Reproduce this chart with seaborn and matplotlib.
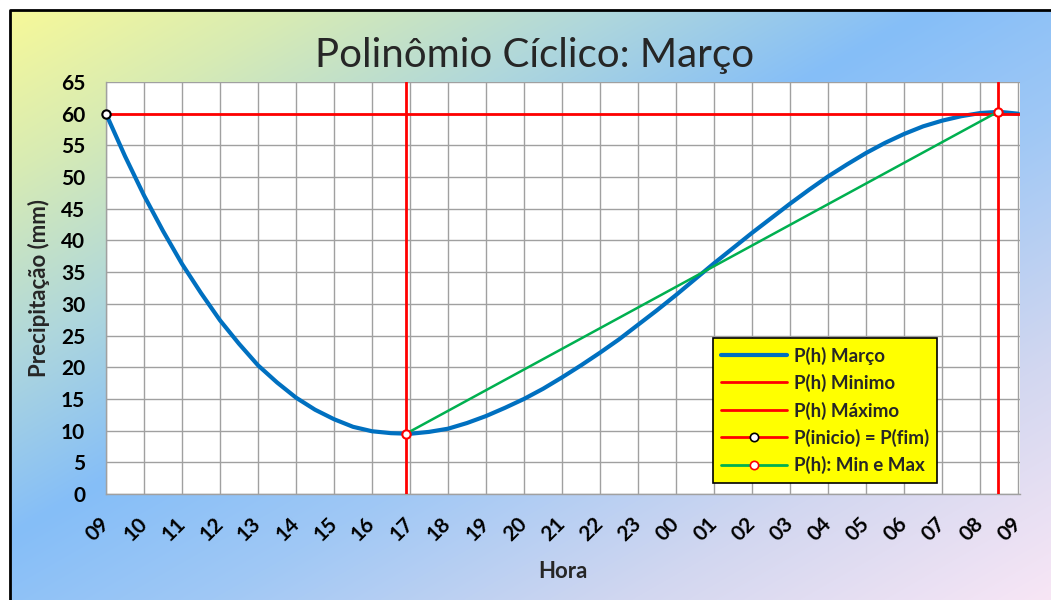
import numpy as np
import matplotlib
matplotlib.use("Agg")
import matplotlib.pyplot as plt
import seaborn as sns
from matplotlib.patches import Rectangle
from matplotlib.lines import Line2D

# hour labels along the x axis (one day, 09h -> 09h)
hour_labels = ['09', '10', '11', '12', '13', '14', '15', '16', '17', '18', '19', '20',
               '21', '22', '23', '00', '01', '02', '03', '04', '05', '06', '07', '08', '09']

# P(h) Marco, every half hour from 09h
hora = np.arange(49) * 0.5
precip = [60.0, 53.3, 47.1, 41.5, 36.3, 31.7, 27.4, 23.7, 20.3, 17.6,
          15.2, 13.3, 11.8, 10.6, 9.9, 9.6, 9.5, 9.8, 10.3, 11.2,
          12.3, 13.6, 15.0, 16.6, 18.4, 20.3, 22.3, 24.4, 26.7, 29.0,
          31.4, 33.9, 36.4, 38.8, 41.2, 43.5, 45.8, 48.0, 50.1, 52.0,
          53.8, 55.4, 56.8, 58.0, 58.9, 59.6, 60.1, 60.3, 60.0]

# reference points
min_h, min_p = 7.89, 9.5
max_h, max_p = 23.47, 60.3
inicio_p = 60.0

sns.set_theme(style="white")
plt.rcParams['font.family'] = ['Lato', 'DejaVu Sans']

fig = plt.figure(figsize=(10.51, 6), dpi=100)

# gradient background
W, H = 1051, 600
yy, xx = np.mgrid[0:H, 0:W]
t = (xx / W + yy / H) / 2
stops = [0.0, 0.15, 0.3, 0.45, 0.6, 0.8, 1.0]
cols = np.array([(250, 250, 150), (215, 235, 180), (175, 215, 220), (133, 190, 248),
                 (160, 200, 245), (210, 215, 240), (248, 230, 245)]) / 255
img = np.dstack([np.interp(t, stops, cols[:, k]) for k in range(3)])
bg = fig.add_axes([0, 0, 1, 1], zorder=-10)
bg.imshow(img, aspect='auto', extent=[0, W, H, 0])
bg.set_xlim(0, W)
bg.set_ylim(H, 0)
bg.axis('off')
bg.add_patch(Rectangle((0, 0), W, 9, color='white'))
bg.add_patch(Rectangle((0, 0), 9, H, color='white'))
bg.plot([10, 10, W], [H, 10, 10], color='black', lw=2)

ax = fig.add_axes([106 / W, 1 - 494 / H, (1020 - 106) / W, (494 - 82) / H])
ax.set_facecolor('white')

sns.lineplot(x=hora, y=precip, ax=ax, color='#0070c0', linewidth=3, zorder=3,
             label='P(h) Março')
ax.plot([min_h, min_h], [0, 65], color='#ff0000', lw=2, zorder=4, label='P(h) Minimo')
ax.plot([max_h, max_h], [0, 65], color='#ff0000', lw=2, zorder=4, label='P(h) Máximo')
ax.plot([0, 24.05], [inicio_p, inicio_p], color='#ff0000', lw=2, zorder=4)
ax.plot([0], [inicio_p], 'o', ms=6, mfc='white', mec='black', mew=1.5, zorder=6,
        clip_on=False)
ax.plot([min_h, max_h], [min_p, max_p], color='#00b050', lw=1.8, zorder=4)
ax.plot([min_h, max_h], [min_p, max_p], 'o', ms=6, mfc='white', mec='#ff0000', mew=1.5,
        zorder=6, clip_on=False)

ax.set_xlim(0, 24.05)
ax.set_ylim(0, 65)
ax.set_xticks(range(25))
ax.set_xticklabels(hour_labels, rotation=45, ha='right', va='center',
                   rotation_mode='anchor', fontweight='bold', fontsize=15)
ax.set_yticks(range(0, 66, 5))
ax.set_yticklabels([str(v) for v in range(0, 66, 5)], fontweight='bold', fontsize=15)
ax.tick_params(axis='x', length=6, width=1, color='#a0a0a0', pad=13, labelcolor='black')
ax.tick_params(axis='y', length=6, width=1, color='#a0a0a0', pad=9, labelcolor='black')
ax.grid(True, color='#a0a0a0', lw=1)
ax.set_axisbelow(True)
for s in ax.spines.values():
    s.set_color('#a0a0a0')
    s.set_linewidth(1)
ax.spines['top'].set_visible(False)
ax.spines['right'].set_visible(False)

ax.set_xlabel('Hora', fontweight='bold', fontsize=16, labelpad=12)
ax.set_ylabel('Precipitação (mm)', fontweight='bold', fontsize=16, labelpad=8)
fig.text(535 / W, 1 - 55 / H, 'Polinômio Cíclico: Março', ha='center', va='center',
         fontsize=29)

handles = [
    Line2D([], [], color='#0070c0', lw=3),
    Line2D([], [], color='#ff0000', lw=2),
    Line2D([], [], color='#ff0000', lw=2),
    Line2D([], [], color='#ff0000', lw=2, marker='o', ms=6, mfc='white', mec='black', mew=1.2),
    Line2D([], [], color='#00b050', lw=2, marker='o', ms=6, mfc='white', mec='#ff0000', mew=1.2),
]
labels = ['P(h) Março', 'P(h) Minimo', 'P(h) Máximo', 'P(inicio) = P(fim)', 'P(h): Min e Max']
leg = ax.legend(handles, labels, loc='lower left', bbox_to_anchor=(0.664, 0.027),
                borderaxespad=0,
                prop={'weight': 'bold', 'size': 13.5}, frameon=True, fancybox=False,
                facecolor='#ffff00', edgecolor='black', framealpha=1,
                handlelength=3.5, labelspacing=0.5, borderpad=0.45, handletextpad=0.35)
leg.get_frame().set_linewidth(1.2)
leg.set_zorder(10)

fig.savefig('out.png', dpi=100)
